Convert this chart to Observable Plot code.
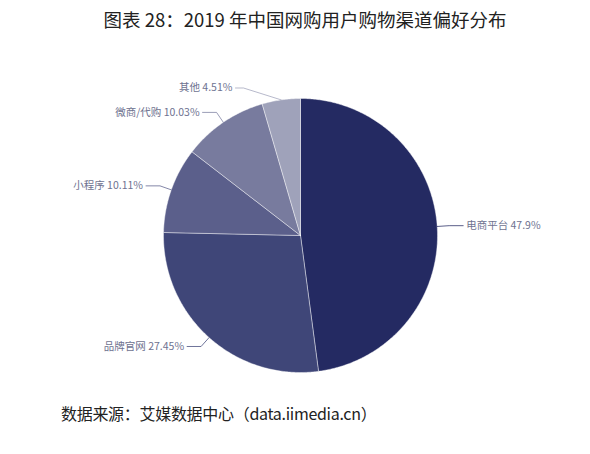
<!DOCTYPE html>
<html><head><meta charset="utf-8">
<script src="https://cdn.jsdelivr.net/npm/d3@7"></script>
<script src="https://cdn.jsdelivr.net/npm/@observablehq/plot@0.6"></script>
<style>
body{margin:0;background:#fff;width:590px;height:454px;overflow:hidden;font-family:"Noto Sans CJK SC","Noto Sans",sans-serif;}
#title{position:absolute;left:20px;top:6px;width:570px;text-align:center;font-size:18.5px;color:#222}
#chart{position:absolute;left:0;top:40px}
#cap{position:absolute;left:61px;top:401px;font-size:16px;letter-spacing:-0.3px;color:#222}
</style></head>
<body>
<div id="title">图表 28：2019 年中国网购用户购物渠道偏好分布</div>
<div id="chart"></div>
<div id="cap">数据来源：艾媒数据中心（data.iimedia.cn）</div>
<script>
const categories = ["电商平台", "品牌官网", "小程序", "微商/代购", "其他"];
const shares = [47.9, 27.45, 10.11, 10.03, 4.51];
const colors = ["#242a62", "#3f4678", "#5b5f8b", "#787b9e", "#9fa2ba"];

const R = 137;
const pie = d3.pie().sort(null).value(d => d)(shares);
const pt = (a, r) => ({x: r * Math.sin(a), y: r * Math.cos(a)});

// slice polygons
const slices = [];
pie.forEach((p, i) => {
  const cat = categories[i];
  slices.push({cat, ...pt(0, 0)});
  const n = Math.max(2, Math.ceil((p.endAngle - p.startAngle) / 0.01));
  for (let k = 0; k <= n; k++) {
    const a = p.startAngle + (p.endAngle - p.startAngle) * k / n;
    slices.push({cat, ...pt(a, R)});
  }
  slices.push({cat, ...pt(0, 0)});
});

// leader lines and labels
const tweak = {4: {elbowDx: -36, len2: 8}};
const leaders = [], texts = [];
pie.forEach((p, i) => {
  const cat = categories[i];
  const mid = (p.startAngle + p.endAngle) / 2;
  const edge = pt(mid, R);
  const elbow = pt(mid, R + 12);
  const t = tweak[i] || {};
  if (t.elbowDx) elbow.x += t.elbowDx;
  const side = Math.sin(mid) >= 0 ? 1 : -1;
  const end = {x: elbow.x + side * (t.len2 || 14), y: elbow.y};
  leaders.push({cat, ...edge}, {cat, ...elbow}, {cat, ...end});
  texts.push({cat, x: end.x, y: end.y, side, text: `${cat} ${shares[i]}%`});
});

const chart = Plot.plot({
  width: 590, height: 355,
  margin: 0,
  x: {domain: [-300, 290], range: [0, 590], axis: null},
  y: {domain: [-160, 195], range: [355, 0], axis: null},
  color: {domain: categories, range: colors},
  style: {fontFamily: "'Noto Sans CJK SC', 'Noto Sans', sans-serif", background: "#fff"},
  marks: [
    Plot.line(slices, {x: "x", y: "y", z: "cat", fill: "cat", stroke: "#ffffff", strokeWidth: 0.6, strokeOpacity: 0.7, curve: "linear-closed"}),
    Plot.line(leaders, {x: "x", y: "y", z: "cat", stroke: "cat", strokeWidth: 1, strokeOpacity: 0.75}),
    Plot.text(texts.filter(d => d.side > 0), {x: "x", y: "y", text: "text", textAnchor: "start", dx: 3, fill: "#6e7290", fontSize: 10.5}),
    Plot.text(texts.filter(d => d.side < 0), {x: "x", y: "y", text: "text", textAnchor: "end", dx: -3, fill: "#6e7290", fontSize: 10.5})
  ]
});
document.getElementById("chart").appendChild(chart);
</script>
</body></html>
